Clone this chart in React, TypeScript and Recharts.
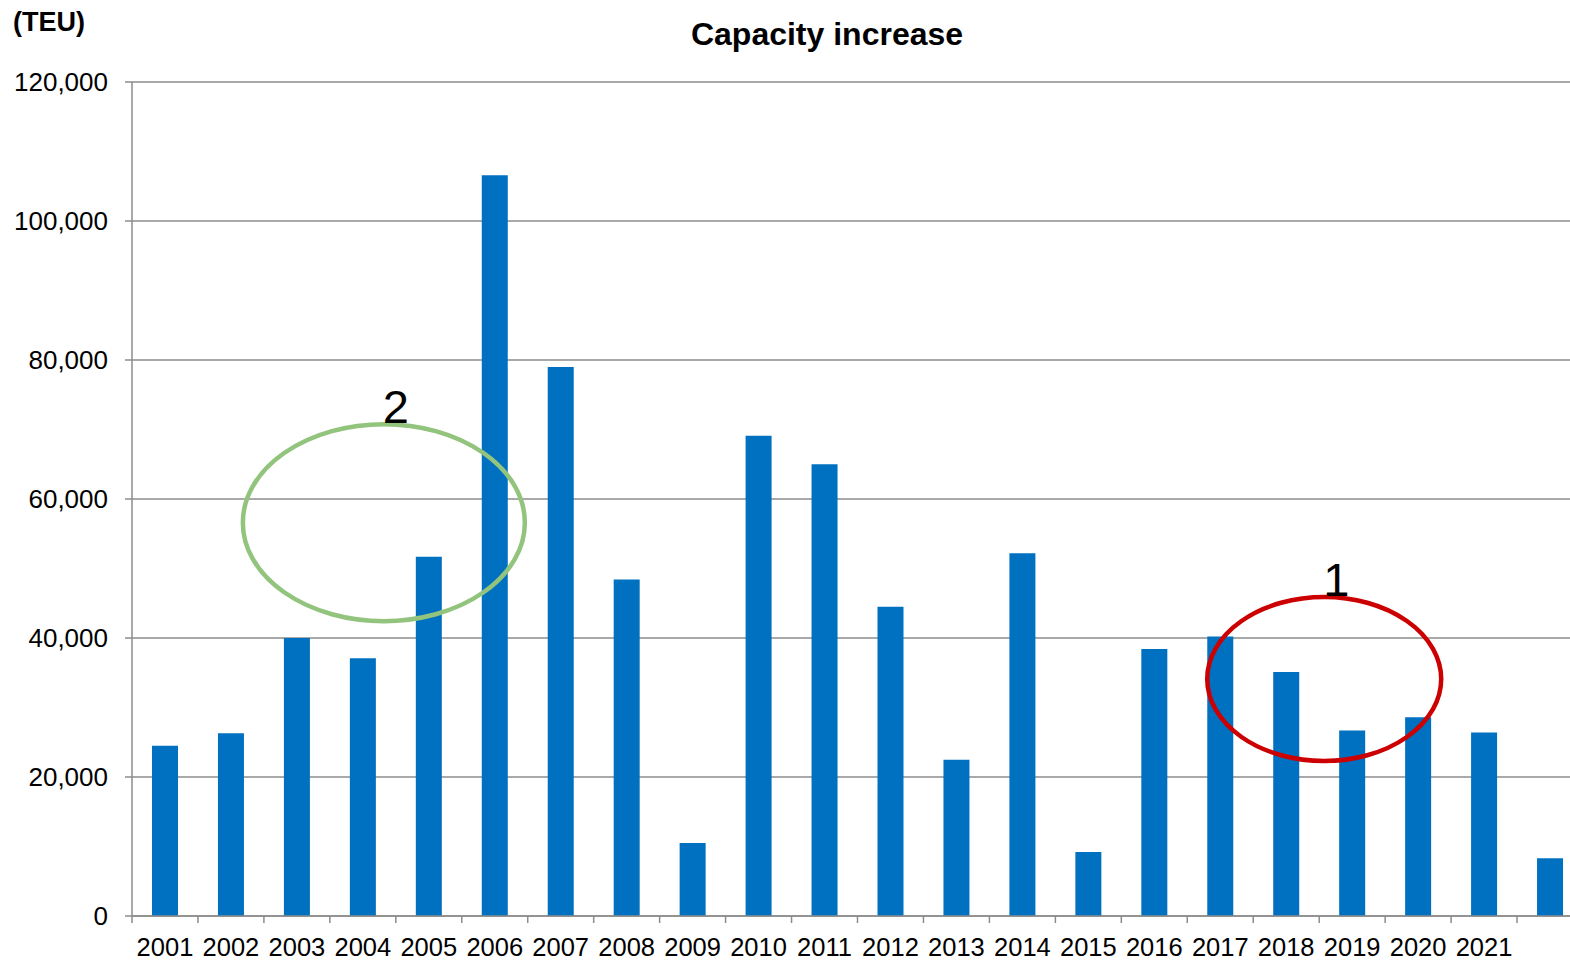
import { BarChart, Bar, XAxis, YAxis, CartesianGrid, ReferenceDot } from "recharts";

const years = [
  "2001", "2002", "2003", "2004", "2005", "2006", "2007", "2008", "2009", "2010", "2011",
  "2012", "2013", "2014", "2015", "2016", "2017", "2018", "2019", "2020", "2021", "",
];
const capacity = [
  24500, 26300, 40000, 37100, 51700, 106600, 79000, 48400, 10500, 69100, 65000,
  44500, 22500, 52200, 9200, 38400, 40200, 35100, 26700, 28600, 26400, 8300,
];
const yTicks = [0, 20000, 40000, 60000, 80000, 100000, 120000];

const data = years.map((year, i) => ({ year, teu: capacity[i] }));

const FONT = '"Liberation Sans", Arial, sans-serif';
const AXIS_GRAY = "#8c8c8c";
const CHART_W = 1590;
const CHART_H = 960;
const PLOT_LEFT = 132;
const PLOT_RIGHT = 1583;
const BAND = (PLOT_RIGHT - PLOT_LEFT) / years.length;

// year label centred under the bar, tick mark on the left edge of the band
const YearTick = (props: any) => {
  const { x, y, payload, index } = props;
  const left = x - BAND / 2;
  const axisY = y - 22;
  return (
    <g>
      <line x1={left} x2={left} y1={axisY} y2={axisY + 7} stroke={AXIS_GRAY} strokeWidth={1.5} />
      {index === years.length - 1 && (
        <line x1={left + BAND} x2={left + BAND} y1={axisY} y2={axisY + 7} stroke={AXIS_GRAY} strokeWidth={1.5} />
      )}
      <text x={x} y={y} dy="0.71em" textAnchor="middle" fontSize={25.5} fontFamily={FONT} fill="#000">
        {payload.value}
      </text>
    </g>
  );
};

const ring = (dx: number, rx: number, ry: number, color: string, label: string) => (props: any) => {
  const cx = props.cx + dx;
  const cy = props.cy;
  return (
    <g>
      <ellipse cx={cx} cy={cy} rx={rx} ry={ry} fill="none" stroke={color} strokeWidth={4.5} />
      <text x={cx + 12} y={cy - ry - 1} textAnchor="middle" fontSize={47} fontFamily={FONT} fill="#000">
        {label}
      </text>
    </g>
  );
};

export default function App() {
  return (
    <div style={{ position: "absolute", left: 0, top: 0, width: 1570, height: 960, overflow: "hidden", background: "#fff" }}>
      <BarChart
        width={CHART_W}
        height={CHART_H}
        data={data}
        margin={{ top: 82, right: CHART_W - PLOT_RIGHT, bottom: 0, left: 0 }}
      >
        <CartesianGrid vertical={false} stroke={AXIS_GRAY} strokeWidth={1.5} />
        <XAxis
          dataKey="year"
          height={44}
          tickLine={false}
          tickSize={7}
          tickMargin={15}
          axisLine={{ stroke: AXIS_GRAY, strokeWidth: 1.5 }}
          tick={<YearTick />}
          interval={0}
        />
        <YAxis
          width={PLOT_LEFT}
          domain={[0, 120000]}
          ticks={yTicks}
          tickSize={7}
          tickMargin={17}
          tickLine={{ stroke: AXIS_GRAY, strokeWidth: 1.5 }}
          axisLine={{ stroke: AXIS_GRAY, strokeWidth: 1.5 }}
          tick={{ fontSize: 26, fontFamily: FONT, fill: "#000" }}
          tickFormatter={(v: number) => v.toLocaleString("en-US")}
        />
        <Bar dataKey="teu" fill="#0070c0" barSize={26} isAnimationActive={false} />
        <ReferenceDot x="2004" y={56600} ifOverflow="visible" shape={ring(21, 141, 98.5, "#93c47d", "2")} />
        <ReferenceDot x="2018" y={34100} ifOverflow="visible" shape={ring(38, 117, 82, "#cc0000", "1")} />
      </BarChart>
      <svg width={1570} height={80} style={{ position: "absolute", left: 0, top: 0, pointerEvents: "none" }}>
        <text x={13} y={31} fontSize={27} fontWeight="bold" fontFamily={FONT} fill="#000">
          (TEU)
        </text>
        <text x={827} y={45} textAnchor="middle" fontSize={32} fontWeight="bold" fontFamily={FONT} fill="#000">
          Capacity increase
        </text>
      </svg>
    </div>
  );
}
